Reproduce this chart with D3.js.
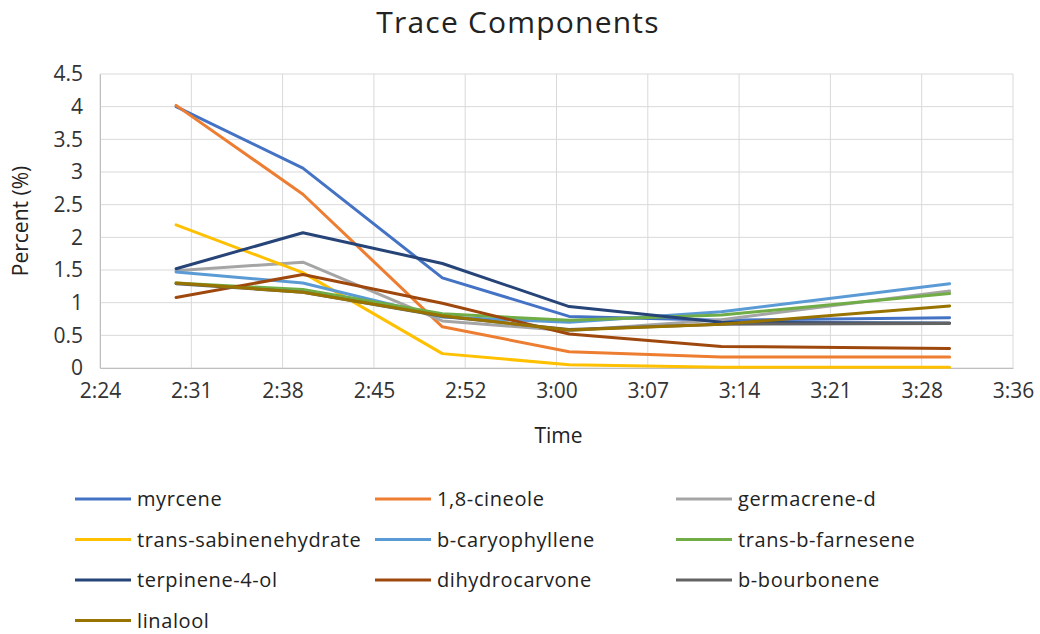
<!DOCTYPE html>
<html>
<head>
<meta charset="utf-8">
<script src="https://cdn.jsdelivr.net/npm/d3@7/dist/d3.min.js"></script>
<style>
  html, body { margin: 0; padding: 0; background: #fff; }
  svg { display: block; font-family: "Open Sans", "Noto Sans", sans-serif; }
</style>
</head>
<body>
<div id="chart"></div>
<script>
// 数据：采样时间 + 各组分百分比
const times = ['2:30', '2:40', '2:51', '3:01', '3:13', '3:31'];

const seriesNames = [
  'myrcene', '1,8-cineole', 'germacrene-d',
  'trans-sabinenehydrate', 'b-caryophyllene', 'trans-b-farnesene',
  'terpinene-4-ol', 'dihydrocarvone', 'b-bourbonene',
  'linalool'
];

const myrcene              = [4.00, 3.06, 1.38, 0.79, 0.73, 0.77];
const cineole              = [4.02, 2.66, 0.63, 0.25, 0.17, 0.17];
const germacreneD          = [1.49, 1.62, 0.72, 0.57, 0.74, 1.18];
const transSabinenehydrate = [2.19, 1.46, 0.22, 0.05, 0.01, 0.01];
const bCaryophyllene       = [1.47, 1.30, 0.78, 0.70, 0.86, 1.29];
const transBFarnesene      = [1.30, 1.20, 0.83, 0.73, 0.81, 1.14];
const terpinene4ol         = [1.52, 2.07, 1.60, 0.94, 0.70, 0.69];
const dihydrocarvone       = [1.08, 1.43, 0.99, 0.52, 0.33, 0.30];
const bBourbonene          = [1.29, 1.16, 0.79, 0.59, 0.67, 0.68];
const linalool             = [1.30, 1.16, 0.80, 0.58, 0.67, 0.95];

const seriesValues = [
  myrcene, cineole, germacreneD,
  transSabinenehydrate, bCaryophyllene, transBFarnesene,
  terpinene4ol, dihydrocarvone, bBourbonene,
  linalool
];

const colors = [
  '#4472C4', '#ED7D31', '#A5A5A5',
  '#FFC000', '#5B9BD5', '#70AD47',
  '#264478', '#9E480E', '#636363',
  '#997300'
];

const yTicks = [0, 0.5, 1, 1.5, 2, 2.5, 3, 3.5, 4, 4.5];
const xStart = '2:24', xEnd = '3:36', xStep = 7.2; // Excel 主刻度 0.005 天

// 工具：h:mm <-> 分钟
const toMin = s => { const [h, m] = s.split(':').map(Number); return h * 60 + m; };
const fmtMin = v => {
  const t = Math.floor(v + 1e-6);
  return Math.floor(t / 60) + ':' + String(t % 60).padStart(2, '0');
};

const width = 1040, height = 634;
const margin = { top: 74, right: 27, bottom: 266, left: 100 };
const innerW = width - margin.left - margin.right;
const innerH = height - margin.top - margin.bottom;

const svg = d3.select('#chart').append('svg')
  .attr('width', width).attr('height', height)
  .attr('viewBox', `0 0 ${width} ${height}`);

svg.append('rect').attr('width', width).attr('height', height).attr('fill', '#fff');

// 标题
svg.append('text')
  .attr('x', 518).attr('y', 33)
  .attr('text-anchor', 'middle')
  .attr('font-size', 30).attr('letter-spacing', 1.2).attr('fill', '#222')
  .text('Trace Components');

const g = svg.append('g').attr('transform', `translate(${margin.left},${margin.top})`);

const x = d3.scaleLinear().domain([toMin(xStart), toMin(xEnd)]).range([0, innerW]);
const y = d3.scaleLinear().domain([0, 4.5]).range([innerH, 0]);

const xTickVals = d3.range(toMin(xStart), toMin(xEnd) + 0.01, xStep);

// 网格线
g.append('g').selectAll('line').data(yTicks).join('line')
  .attr('x1', 0).attr('x2', innerW)
  .attr('y1', d => y(d)).attr('y2', d => y(d))
  .attr('stroke', '#d9d9d9').attr('stroke-width', 1);
g.append('g').selectAll('line').data(xTickVals).join('line')
  .attr('x1', d => x(d)).attr('x2', d => x(d))
  .attr('y1', 0).attr('y2', innerH)
  .attr('stroke', '#d9d9d9').attr('stroke-width', 1);

// 坐标轴
const yAxis = g.append('g')
  .call(d3.axisLeft(y).tickValues(yTicks).tickFormat(d3.format('')).tickSize(0).tickPadding(17));
yAxis.select('.domain').attr('stroke', '#bfbfbf');
yAxis.selectAll('text').attr('font-size', 21).attr('fill', '#333')
  .attr('font-family', '"Open Sans", sans-serif');

const xAxis = g.append('g').attr('transform', `translate(0,${innerH})`)
  .call(d3.axisBottom(x).tickValues(xTickVals).tickFormat(fmtMin).tickSize(0).tickPadding(15));
xAxis.select('.domain').attr('stroke', '#bfbfbf');
xAxis.selectAll('text').attr('font-size', 21).attr('fill', '#333')
  .attr('font-family', '"Open Sans", sans-serif');

// 轴标题
svg.append('text')
  .attr('transform', `translate(22,${margin.top + innerH / 2}) rotate(-90)`)
  .attr('text-anchor', 'middle').attr('dominant-baseline', 'middle')
  .attr('font-size', 21).attr('fill', '#222')
  .text('Percent (%)');

svg.append('text')
  .attr('x', margin.left + innerW / 2 + 2).attr('y', 443)
  .attr('text-anchor', 'middle')
  .attr('font-size', 21).attr('fill', '#222')
  .text('Time');

// 折线
const tMin = times.map(toMin);
const line = d3.line().x((d, i) => x(tMin[i])).y(d => y(d));

g.append('g').selectAll('path').data(seriesValues).join('path')
  .attr('d', d => line(d))
  .attr('fill', 'none')
  .attr('stroke', (d, i) => colors[i])
  .attr('stroke-width', 3)
  .attr('stroke-linejoin', 'round')
  .attr('stroke-linecap', 'round');

// 图例：三列
const legendCols = [75, 375, 676];
const legendY0 = 499, legendDy = 40.5;
const legend = svg.append('g').selectAll('g').data(seriesNames).join('g')
  .attr('transform', (d, i) => `translate(${legendCols[i % 3]},${legendY0 + Math.floor(i / 3) * legendDy})`);
legend.append('line')
  .attr('x1', 0).attr('x2', 56).attr('y1', 0).attr('y2', 0)
  .attr('stroke', (d, i) => colors[i]).attr('stroke-width', 3);
legend.append('text')
  .attr('x', 62).attr('y', 0).attr('dy', '0.35em')
  .attr('font-size', 20).attr('letter-spacing', 0.6).attr('fill', '#222')
  .text(d => d);
</script>
</body>
</html>
